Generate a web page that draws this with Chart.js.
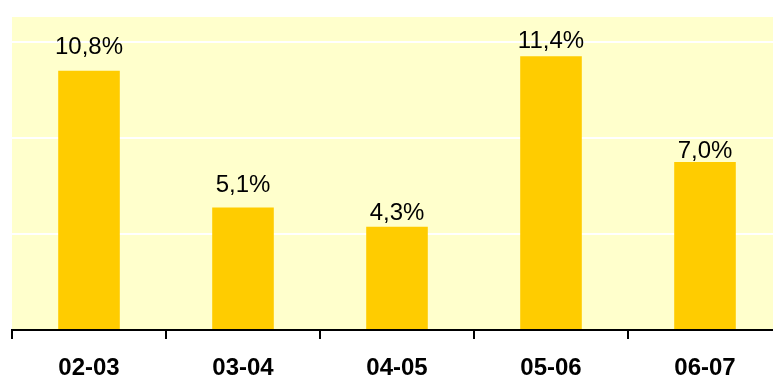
<!DOCTYPE html>
<html>
<head>
<meta charset="utf-8">
<script src="https://cdn.jsdelivr.net/npm/chart.js@4.4.1/dist/chart.umd.min.js"></script>
<style>
  html, body { margin: 0; padding: 0; background: #fff; overflow: hidden; }
  #wrap { width: 790px; height: 376px; }
</style>
</head>
<body>
<div id="wrap"><canvas id="chart" width="790" height="376"></canvas></div>
<script>
// values (percent)
const seasons = ["02-03", "03-04", "04-05", "05-06", "06-07"];
const growth = [10.8, 5.1, 4.3, 11.4, 7.0];

// plot background + per bar value labels
const plotBg = {
    id: "plotBg",
    beforeDraw(chart) {
        const a = chart.chartArea;
        const ctx = chart.ctx;
        ctx.save();
        ctx.fillStyle = "#FFFFCC";
        ctx.fillRect(a.left, a.top, a.right - a.left, a.bottom - a.top);
        ctx.restore();
    }
};

const valueLabels = {
    id: "valueLabels",
    afterDatasetsDraw(chart, args, opts) {
        const ctx = chart.ctx;
        const meta = chart.getDatasetMeta(0);
        ctx.save();
        ctx.font = "24px Arial, 'Liberation Sans', sans-serif";
        ctx.fillStyle = "#000";
        ctx.textAlign = "center";
        ctx.textBaseline = "alphabetic";
        meta.data.forEach((bar, i) => {
            const v = chart.data.datasets[0].data[i];
            const txt = v.toFixed(1).replace(".", ",") + "%";
            ctx.fillText(txt, bar.x, bar.y - opts.gaps[i]);
        });
        ctx.restore();
    }
};

new Chart(document.getElementById("chart"), {
    type: "bar",
    data: {
        labels: seasons,
        datasets: [{
            data: growth,
            backgroundColor: "#FFCC00",
            borderWidth: 0,
            categoryPercentage: 1,
            barPercentage: 0.4
        }]
    },
    options: {
        responsive: false,
        animation: false,
        layout: { padding: { left: 12, top: 16, right: 8, bottom: 0 } },
        plugins: {
            legend: { display: false },
            tooltip: { enabled: false },
            valueLabels: { gaps: [17, 16, 7, 8, 4] }
        },
        scales: {
            x: {
                afterFit(scale) { scale.height = 46; },
                grid: {
                    offset: true,
                    drawOnChartArea: false,
                    color: "#000",
                    lineWidth: 2,
                    tickLength: 9
                },
                border: { color: "#000", width: 2 },
                ticks: {
                    color: "#000",
                    padding: 15,
                    font: { family: "Arial, 'Liberation Sans', sans-serif", size: 24, weight: "bold" }
                }
            },
            y: {
                min: 0,
                max: 13.08,
                ticks: { display: false, stepSize: 4 },
                border: { display: false },
                grid: { color: "#FFFFFF", lineWidth: 2, drawTicks: false }
            }
        }
    },
    plugins: [plotBg, valueLabels]
});
</script>
</body>
</html>
